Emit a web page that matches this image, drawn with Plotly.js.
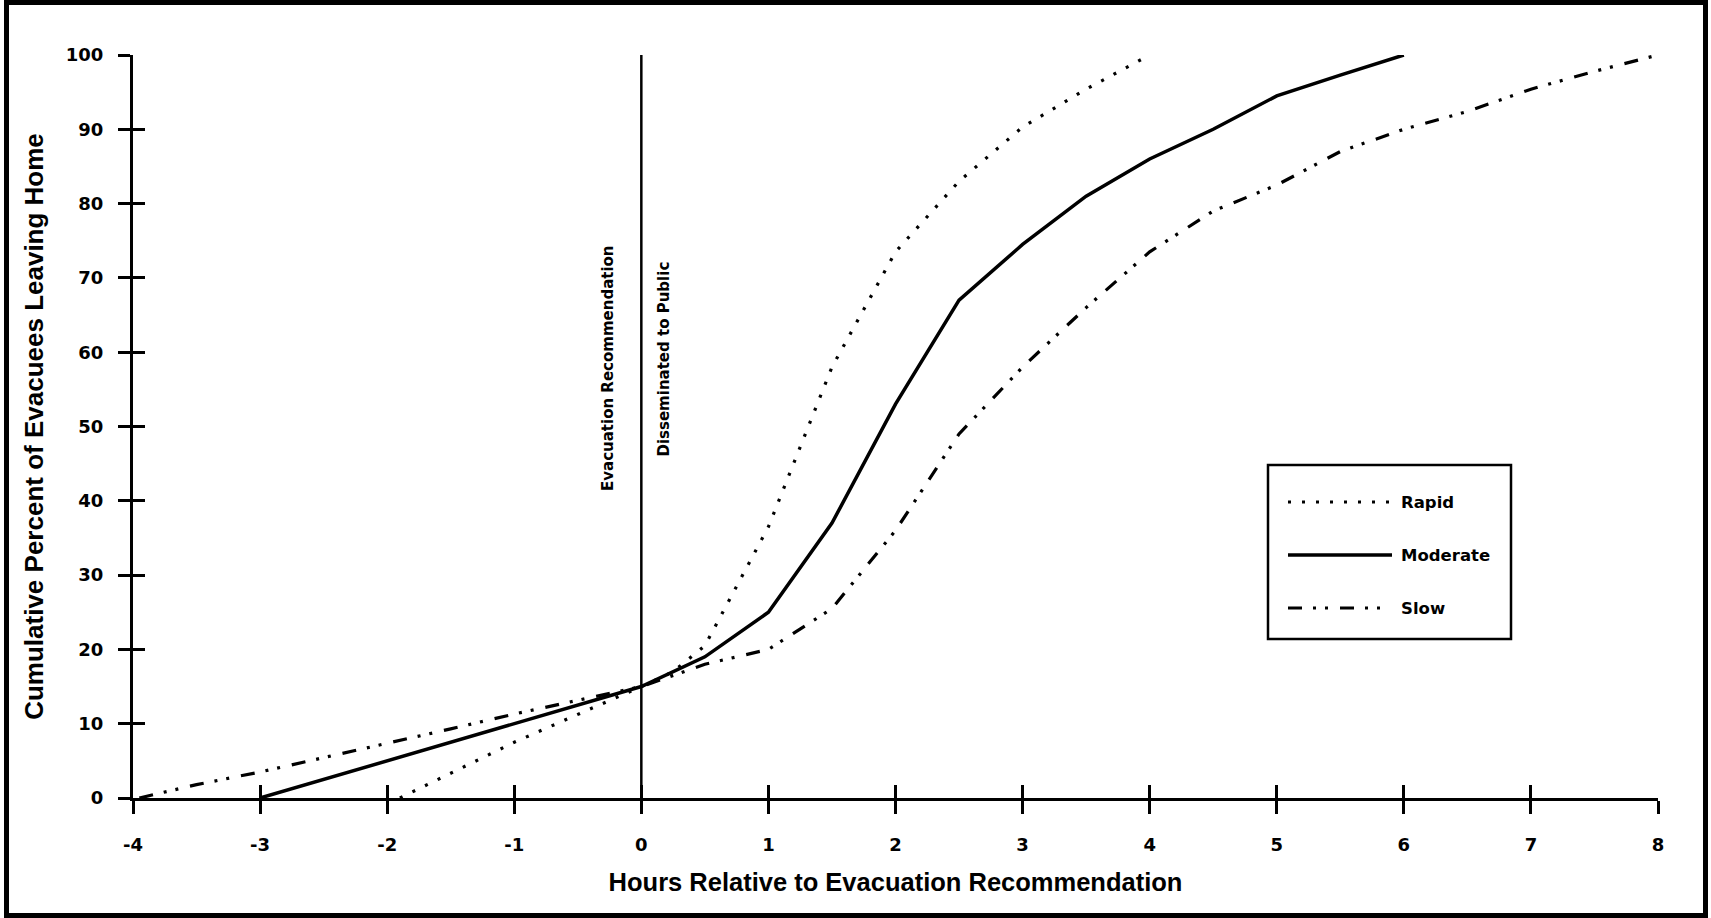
<!DOCTYPE html>
<html>
<head>
<meta charset="utf-8">
<script src="https://cdn.plot.ly/plotly-3.0.1.min.js"></script>
<style>
  html, body { margin: 0; padding: 0; background: #ffffff; }
  #chart { width: 1711px; height: 918px; }
</style>
</head>
<body>
<div id="chart"></div>
<script>
// ---- data ----
const hoursRapid = [-1.9, -1, 0, 0.25, 0.5, 0.75, 1, 1.5, 2, 2.5, 3, 3.5, 4];
const pctRapid   = [0, 7.5, 15, 17, 20.5, 28.5, 36.5, 58, 73.5, 83, 90.3, 95.4, 100];

const hoursModerate = [-3, -2, -1, 0, 0.5, 1, 1.5, 2, 2.5, 3, 3.5, 4, 4.5, 5, 5.5, 6];
const pctModerate   = [0, 5, 10, 15, 19, 25, 37, 53, 67, 74.5, 81, 86, 90, 94.5, 97.3, 100];

const hoursSlow = [-3.95, -3.5, -3, -2.5, -2, -1.5, -1, -0.5, 0, 0.5, 1, 1.5, 2, 2.5, 3, 3.5, 4, 4.5, 5, 5.5, 6, 6.5, 7, 7.5, 8];
const pctSlow   = [0, 1.8, 3.5, 5.4, 7.3, 9.3, 11.3, 13.1, 15, 18, 20, 25.5, 36, 49, 58, 66, 73.5, 79, 82.5, 87, 90, 92.4, 95.4, 97.8, 100];

const markerHours = [0, 0];          // evacuation recommendation line
const markerPct   = [0, 100];

const xTickVals  = [-4, -3, -2, -1, 0, 1, 2, 3, 4, 5, 6, 7, 8];
const xTickText  = ["-4", "-3", "-2", "-1", "0", "1", "2", "3", "4", "5", "6", "7", "8"];
const yTickVals  = [0, 10, 20, 30, 40, 50, 60, 70, 80, 90, 100];
const yTickText  = ["0", "10", "20", "30", "40", "50", "60", "70", "80", "90", "100"];

const seriesNames = ["Rapid", "Moderate", "Slow"];
const xTitle = "Hours Relative to Evacuation Recommendation";
const yTitle = "Cumulative Percent of Evacuees Leaving Home";
const noteLeft  = "Evacuation Recommendation";
const noteRight = "Disseminated to Public";

// ---- layout constants ----
const W = 1711, H = 918;
const M = { l: 133, r: 53, t: 55, b: 120 };
const PW = W - M.l - M.r, PH = H - M.t - M.b;
const px = v => (v - M.l) / PW;          // pixel x -> paper x
const py = v => (H - M.b - v) / PH;      // pixel y -> paper y

const TFONT = "Liberation Sans, Arial, Helvetica, sans-serif";   // axis titles
const LFONT = "DejaVu Sans, Verdana, sans-serif";                // ticks, legend, notes
const INK = "#000000";

const dashRapid = "3px,11px";
const dashSlow = "14px,11px,3px,9px,3px,12px";

const traces = [
  { x: hoursRapid, y: pctRapid, name: seriesNames[0], type: "scatter", mode: "lines",
    line: { color: INK, width: 3.2, dash: dashRapid }, hoverinfo: "skip" },
  { x: hoursModerate, y: pctModerate, name: seriesNames[1], type: "scatter", mode: "lines",
    line: { color: INK, width: 3.5 }, hoverinfo: "skip" },
  { x: hoursSlow, y: pctSlow, name: seriesNames[2], type: "scatter", mode: "lines",
    line: { color: INK, width: 3.2, dash: dashSlow }, hoverinfo: "skip" },
  { x: markerHours, y: markerPct, xaxis: "x2", yaxis: "y2", type: "scatter", mode: "lines",
    line: { color: INK, width: 2.5 }, showlegend: false, hoverinfo: "skip" }
];

const axisCommon = {
  showgrid: false, zeroline: false, color: INK,
  tickcolor: INK, tickwidth: 3, fixedrange: true
};

// legend drawn by hand so the line samples are as long as the original's
const legendRows = [502, 555, 608];
const legendDashes = [dashRapid, "solid", dashSlow];
const legendWidths = [3.2, 3.5, 3.2];

const shapes = [
  // outer frame
  { type: "rect", xref: "paper", yref: "paper",
    x0: px(6.5), x1: px(1705.5), y0: py(915.5), y1: py(2.5),
    line: { color: INK, width: 5 }, fillcolor: "rgba(0,0,0,0)", layer: "above" },
  // legend box
  { type: "rect", xref: "paper", yref: "paper",
    x0: px(1268), x1: px(1511), y0: py(639), y1: py(465),
    line: { color: INK, width: 2.5 }, fillcolor: "#ffffff", layer: "above" }
];
legendRows.forEach((r, i) => {
  shapes.push({ type: "line", xref: "paper", yref: "paper",
    x0: px(1288), x1: px(1392), y0: py(r), y1: py(r),
    line: { color: INK, width: legendWidths[i], dash: legendDashes[i] }, layer: "above" });
});

const annotations = [
  { text: noteLeft, xref: "paper", yref: "paper", x: px(608), y: py(368),
    textangle: -90, showarrow: false, xanchor: "center", yanchor: "middle",
    font: { family: LFONT, size: 15, color: INK, weight: "bold" } },
  { text: noteRight, xref: "paper", yref: "paper", x: px(663), y: py(359.5),
    textangle: -90, showarrow: false, xanchor: "center", yanchor: "middle",
    font: { family: LFONT, size: 15, color: INK, weight: "bold" } }
];
legendRows.forEach((r, i) => {
  annotations.push({ text: seriesNames[i], xref: "paper", yref: "paper",
    x: px(1399), y: py(r), showarrow: false, xanchor: "left", yanchor: "middle",
    font: { family: LFONT, size: 16.5, color: INK, weight: "bold" } });
});

const layout = {
  width: W, height: H,
  margin: M,
  paper_bgcolor: "#ffffff", plot_bgcolor: "#ffffff",
  showlegend: false,
  font: { family: TFONT, color: INK },
  xaxis: Object.assign({}, axisCommon, {
    range: [-4, 8], tickmode: "array", tickvals: xTickVals, ticktext: xTickText,
    ticks: "outside", ticklen: 13, showline: true, linewidth: 3, linecolor: INK,
    ticklabelstandoff: 15,
    tickfont: { family: LFONT, size: 18, color: INK, weight: "bold" },
    title: { text: xTitle, standoff: 20, font: { family: TFONT, size: 25.5, color: INK, weight: "bold" } }
  }),
  yaxis: Object.assign({}, axisCommon, {
    range: [0, 100], tickmode: "array", tickvals: yTickVals, ticktext: yTickText,
    ticks: "outside", ticklen: 12, showline: true, linewidth: 3, linecolor: INK,
    ticklabelstandoff: 11,
    tickfont: { family: LFONT, size: 18, color: INK, weight: "bold" },
    title: { text: yTitle, standoff: 15, font: { family: TFONT, size: 26, color: INK, weight: "bold" } }
  }),
  xaxis2: Object.assign({}, axisCommon, {
    overlaying: "x", anchor: "y2", side: "bottom",
    range: [-4, 8], tickmode: "array", tickvals: xTickVals,
    ticks: "inside", ticklen: 13, showticklabels: false, showline: false
  }),
  yaxis2: Object.assign({}, axisCommon, {
    overlaying: "y", anchor: "x2", side: "left",
    range: [0, 100], tickmode: "array", tickvals: yTickVals,
    ticks: "inside", ticklen: 12, showticklabels: false, showline: false
  }),
  shapes: shapes,
  annotations: annotations
};

Plotly.newPlot("chart", traces, layout, { displayModeBar: false, staticPlot: true });
</script>
</body>
</html>
